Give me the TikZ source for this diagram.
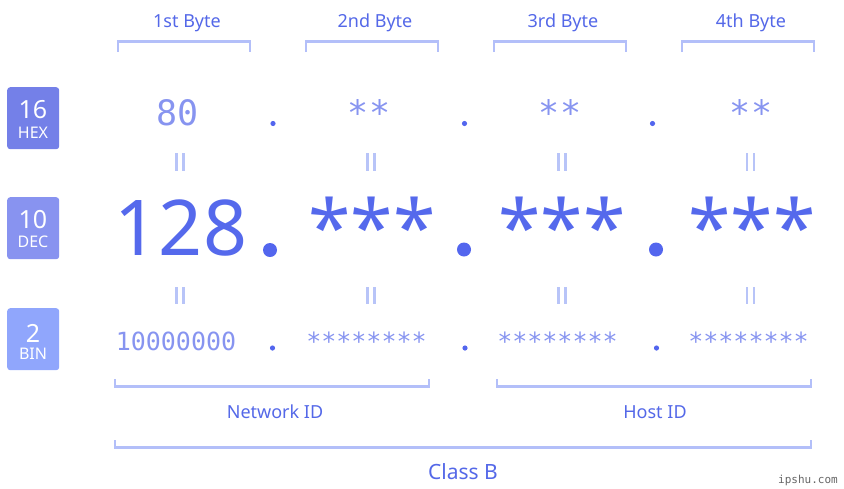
\documentclass[tikz,border=0pt]{standalone}
\usepackage{fontspec}
\setmainfont{Noto Sans}
\setmonofont{DejaVu Sans Mono}
\usepackage{xcolor}
\usepackage{tikz}

\definecolor{azul}{HTML}{5468E8}
\definecolor{azuldec}{HTML}{5569EC}
\definecolor{claro}{HTML}{8794F0}
\definecolor{llavecol}{HTML}{B3BFF9}
\definecolor{igualcol}{HTML}{B8C4F8}
\definecolor{puntocol}{HTML}{5366EE}
\definecolor{hexcol}{HTML}{7480E8}
\definecolor{deccol}{HTML}{8893F0}
\definecolor{bincol}{HTML}{90A6FC}

\begin{document}
\begin{tikzpicture}[x=1pt, y=-1pt,
    txt/.style={anchor=base, text=azul, inner sep=0pt, font=\fontsize{18}{20}\selectfont},
    hexnum/.style={anchor=base, text=claro, inner sep=0pt, font=\ttfamily\fontsize{35}{36}\selectfont},
    decnum/.style={anchor=base, text=azuldec, inner sep=0pt, font=\fontsize{77}{80}\selectfont},
    binnum/.style={anchor=base, text=claro, inner sep=0pt, font=\ttfamily\fontsize{25}{26}\selectfont},
    caja/.style={anchor=north west, rounded corners=3pt, minimum width=52pt, minimum height=62pt, inner sep=0pt},
    cajanum/.style={anchor=base, text=white, inner sep=0pt, font=\fontsize{25}{26}\selectfont},
    cajatxt/.style={anchor=base, text=white, inner sep=0pt, font=\fontsize{16}{17}\selectfont},
    llave/.style={draw=llavecol, line width=2.5pt},
    igual/.style={draw=igualcol, line width=2.5pt},
    punto/.style={fill=puntocol}]
    \useasboundingbox (0,0) rectangle (844,488);

    % Cajas de la izquierda
    \node[caja, fill=hexcol] (hex) at (7,87) {};
    \node[cajanum] (hexn) at (33,118) {16};
    \node[cajatxt] (hext) at (33,138) {HEX};
    \node[caja, fill=deccol] (dec) at (7,197) {};
    \node[cajanum] (decn) at (33,228) {10};
    \node[cajatxt] (dect) at (33,247) {DEC};
    \node[caja, fill=bincol] (bin) at (7,308) {};
    \node[cajanum] (binn) at (33,342) {2};
    \node[cajatxt] (bint) at (33,359) {BIN};

    % Bytes arriba
    \node[txt] (byte1) at (187,27) {1st Byte};
    \node[txt] (byte2) at (375,27) {2nd Byte};
    \node[txt] (byte3) at (563,27) {3rd Byte};
    \node[txt] (byte4) at (751,27) {4th Byte};
    \draw[llave] (118,52) -- (118,41.5) -- (250,41.5) -- (250,52);
    \draw[llave] (306,52) -- (306,41.5) -- (438,41.5) -- (438,52);
    \draw[llave] (494,52) -- (494,41.5) -- (626,41.5) -- (626,52);
    \draw[llave] (682,52) -- (682,41.5) -- (814,41.5) -- (814,52);

    % Fila hexadecimal
    \node[hexnum] (h1) at (178,125) {80};
    \node[hexnum] (h2) at (369,125) {**};
    \node[hexnum] (h3) at (560,125) {**};
    \node[hexnum] (h4) at (751,125) {**};
    \fill[punto] (273,123.5) circle (2.6);
    \fill[punto] (464.5,123.5) circle (2.6);
    \fill[punto] (652.5,123.5) circle (2.6);

    % Signos de igual
    \draw[igual] (176.5,153) -- (176.5,171) (183.5,153) -- (183.5,171);
    \draw[igual] (367.5,153) -- (367.5,171) (374.5,153) -- (374.5,171);
    \draw[igual] (558.5,153) -- (558.5,171) (565.5,153) -- (565.5,171);
    \draw[igual] (747,153) -- (747,171) (754,153) -- (754,171);
    \draw[igual] (176.5,287) -- (176.5,304) (183.5,287) -- (183.5,304);
    \draw[igual] (367.5,287) -- (367.5,304) (374.5,287) -- (374.5,304);
    \draw[igual] (558.5,287) -- (558.5,304) (565.5,287) -- (565.5,304);
    \draw[igual] (747,287) -- (747,304) (754,287) -- (754,304);

    % Fila decimal
    \node[decnum] (d1) at (181,255) {128};
    \node[decnum] (d2) at (372,255) {***};
    \node[decnum] (d3) at (562,255) {***};
    \node[decnum] (d4) at (752,255) {***};
    \fill[punto] (270,250) circle (7);
    \fill[punto] (464,249.5) circle (7);
    \fill[punto] (656,249.5) circle (7);

    % Fila binaria
    \node[binnum] (b1) at (176,350) {10000000};
    \node[binnum] (b2) at (366.5,350) {********};
    \node[binnum] (b3) at (557.5,350) {********};
    \node[binnum] (b4) at (748.5,350) {********};
    \fill[punto] (272.5,348) circle (2.6);
    \fill[punto] (465,348) circle (2.6);
    \fill[punto] (656.5,348) circle (2.6);

    % Llaves de abajo
    \draw[llave] (115,379) -- (115,386.5) -- (429,386.5) -- (429,379);
    \draw[llave] (497,379) -- (497,386.5) -- (811,386.5) -- (811,379);
    \node[txt] (red) at (275,418) {Network ID};
    \node[txt] (host) at (655,418) {Host ID};
    \draw[llave] (115,440) -- (115,447.5) -- (811,447.5) -- (811,440);
    \node[txt, font=\fontsize{21}{23}\selectfont] (clase) at (463,479) {Class B};

    \node[anchor=base east, inner sep=0pt, text=black!60, font=\ttfamily\fontsize{11}{12}\selectfont] (marca) at (838,483) {ipshu.com};
\end{tikzpicture}
\end{document}
